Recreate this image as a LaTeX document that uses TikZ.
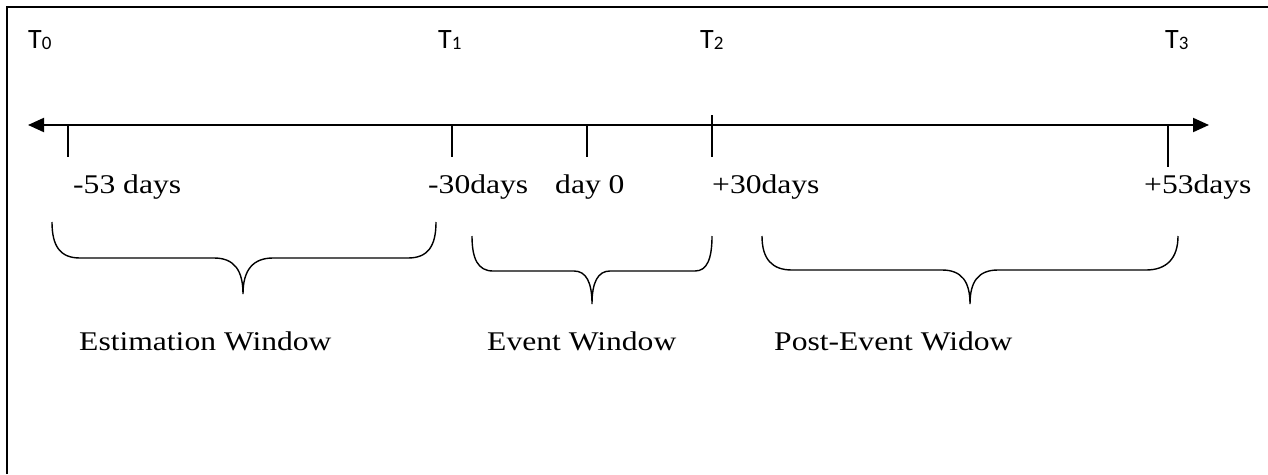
\documentclass[tikz,border=0pt]{standalone}
\usepackage{fontspec}
\setmainfont{Liberation Serif}[FakeStretch=1.17]
\newfontfamily\calfont{Carlito}
\usetikzlibrary{arrows.meta}
\tikzset{
  frame/.style={line width=2pt},
  axis/.style={line width=2pt,{Triangle[length=16pt,width=14pt]}-{Triangle[length=16pt,width=14pt]}},
  tick/.style={line width=2pt},
  thintick/.style={line width=1.4pt},
  brace/.style={line width=1.4pt},
  tlabel/.style={anchor=base west,inner sep=0pt,font=\calfont\fontsize{28}{30}\selectfont},
  daylabel/.style={anchor=base west,inner sep=0pt,font=\fontsize{27}{30}\selectfont},
  winlabel/.style={anchor=base west,inner sep=0pt,font=\fontsize{27}{30}\selectfont}
}
\newcommand{\tsub}[1]{\raisebox{-1.5pt}{\fontsize{19}{20}\selectfont #1}}
\begin{document}
\begin{tikzpicture}[x=1pt,y=-1pt]
\useasboundingbox (0,0) rectangle (1268,474);
% frame (top and left edges only)
\coordinate (fa) at (7,474);
\coordinate (fb) at (7,7);
\coordinate (fc) at (1268,7);
\draw[frame] (fa) -- (fb) -- (fc);

% T labels
\node[tlabel] (t0) at (28,48) {T\tsub{0}};
\node[tlabel] (t1) at (438,48) {T\tsub{1}};
\node[tlabel] (t2) at (700,48) {T\tsub{2}};
\node[tlabel] (t3) at (1165,48) {T\tsub{3}};

% axis
\coordinate (al) at (28,125);
\coordinate (ar) at (1209,125);
\draw[axis] (al) -- (ar);

% ticks
\coordinate (k1a) at (68,125);   \coordinate (k1b) at (68,157);
\coordinate (k2a) at (452,125);  \coordinate (k2b) at (452,157);
\coordinate (k3a) at (587,125);  \coordinate (k3b) at (587,157);
\coordinate (k4a) at (712,115);  \coordinate (k4b) at (712,157);
\coordinate (k5a) at (1168,125); \coordinate (k5b) at (1168,167);
\draw[tick] (k1a) -- (k1b);
\draw[tick] (k2a) -- (k2b);
\draw[thintick] (k3a) -- (k3b);
\draw[tick] (k4a) -- (k4b);
\draw[tick] (k5a) -- (k5b);

% day labels
\node[daylabel] (d1) at (73,193) {-53 days};
\node[daylabel] (d2) at (428,193) {-30days};
\node[daylabel] (d3) at (555,193) {day 0};
\node[daylabel] (d4) at (712,193) {+30days};
\node[daylabel] (d5) at (1144,193) {+53days};

% braces
\coordinate (e1) at (52,222);  \coordinate (e2) at (436,222);  \coordinate (et) at (243,294);
\draw[brace] (e1) .. controls (52,246) and (60,258) .. (80,258) -- (214,258)
  .. controls (234,258) and (243,270) .. (et)
  .. controls (243,270) and (253,258) .. (273,258) -- (408,258)
  .. controls (428,258) and (436,246) .. (e2);

\coordinate (v1) at (472,236); \coordinate (v2) at (712,236); \coordinate (vt) at (592,304);
\draw[brace] (v1) .. controls (472,259) and (478,271) .. (493,271) -- (574,271)
  .. controls (586,271) and (592,282) .. (vt)
  .. controls (592,282) and (598,271) .. (610,271) -- (695,271)
  .. controls (707,271) and (712,259) .. (v2);

\coordinate (p1) at (762,236); \coordinate (p2) at (1178,236); \coordinate (pt) at (970,304);
\draw[brace] (p1) .. controls (762,259) and (772,270) .. (792,270) -- (942,270)
  .. controls (962,270) and (970,282) .. (pt)
  .. controls (970,282) and (978,270) .. (998,270) -- (1146,270)
  .. controls (1166,270) and (1178,259) .. (p2);

% window labels
\node[winlabel] (w1) at (79,350) {Estimation Window};
\node[winlabel] (w2) at (487,350) {Event Window};
\node[winlabel] (w3) at (774,350) {Post-Event Widow};
\end{tikzpicture}
\end{document}
